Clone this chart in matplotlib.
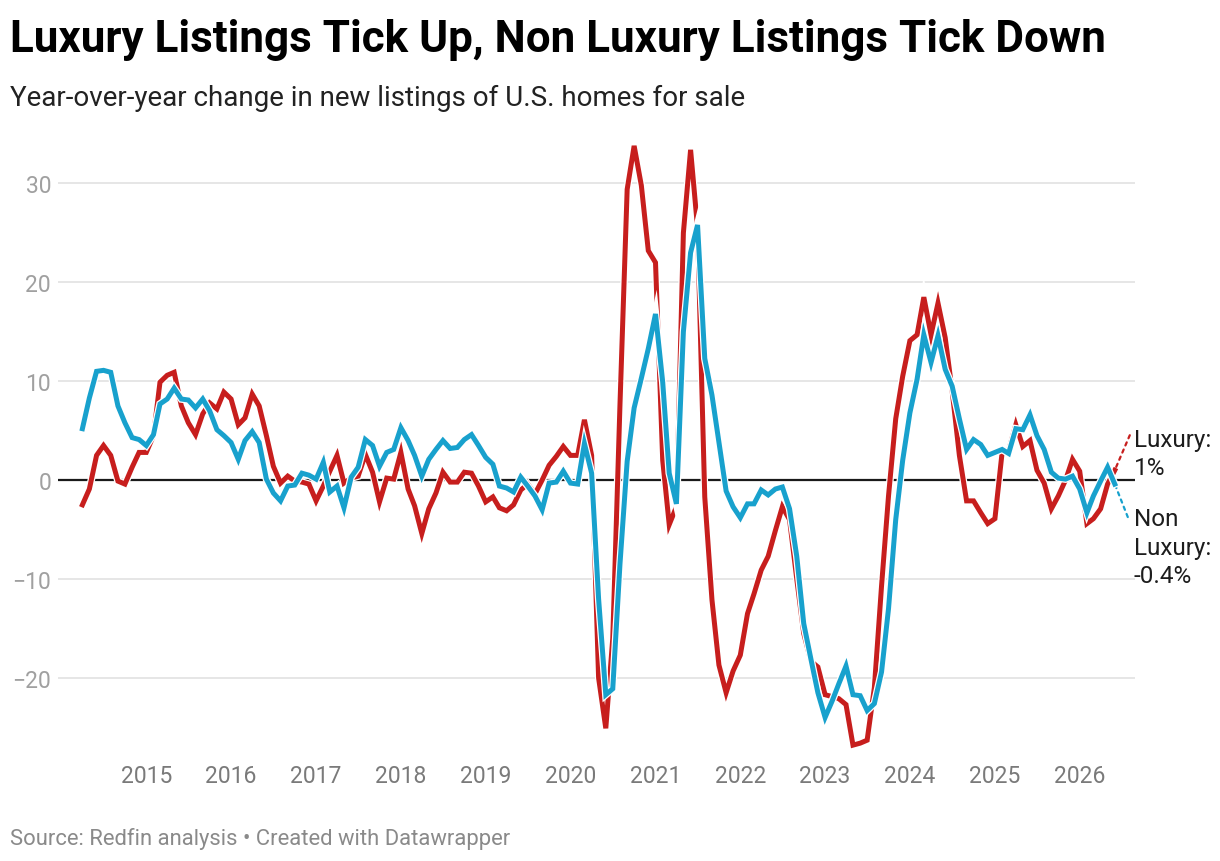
import pandas as pd
import matplotlib
matplotlib.use('Agg')
import matplotlib.pyplot as plt
import matplotlib.patheffects as pe

plt.rcParams['font.family'] = ['Roboto', 'DejaVu Sans']

# monthly points, Apr 2014 .. Jun 2026
months = pd.date_range('2014-04-01', periods=147, freq='MS')

luxury = [
    -2.5, -0.9, 2.5, 3.5, 2.5, -0.1, -0.4, 1.3, 2.8, 2.8,
    4.5, 9.9, 10.6, 10.9, 7.5, 5.8, 4.6, 6.7, 7.8, 7.2,
    8.9, 8.2, 5.6, 6.3, 8.7, 7.5, 4.5, 1.4, -0.3, 0.4,
    -0.1, -0.2, -0.4, -2.1, -0.6, 0.9, 2.5, -0.3, 0.2, 0.4,
    2.6, 0.8, -2.2, 0.2, 0.1, 2.8, -0.9, -2.6, -5.4, -2.9,
    -1.3, 0.8, -0.2, -0.2, 0.8, 0.7, -0.6, -2.2, -1.7, -2.8,
    -3.1, -2.5, -1.0, -0.4, -1.4, 0.0, 1.5, 2.4, 3.4, 2.5,
    2.5, 6.1, 2.5, -20.0, -25.1, -16.0, 7.6, 29.4, 33.8, 29.8,
    23.2, 22.0, 2.0, -4.5, -2.7, 25.0, 33.4, 25.5, -1.7, -12.1,
    -18.7, -21.5, -19.3, -17.7, -13.5, -11.5, -9.1, -7.7, -5.1, -2.7,
    -4.0, -10.0, -15.5, -18.3, -18.9, -21.7, -21.9, -22.1, -22.7, -26.8,
    -26.6, -26.3, -21.0, -10.7, -1.6, 6.2, 10.5, 14.1, 14.7, 18.5,
    14.7, 17.9, 14.4, 9.0, 2.5, -2.1, -2.1, -3.3, -4.4, -3.9,
    2.8, 3.0, 5.6, 3.4, 4.0, 1.0, -0.3, -2.9, -1.6, 0.0,
    2.1, 0.9, -4.4, -3.9, -2.9, -0.4, 1.0,
]

non_luxury = [
    5.2, 8.3, 11.0, 11.1, 10.9, 7.5, 5.8, 4.3, 4.1, 3.5,
    4.6, 7.7, 8.2, 9.3, 8.2, 8.1, 7.3, 8.2, 7.0, 5.1,
    4.5, 3.8, 2.1, 4.0, 4.9, 3.8, 0.1, -1.3, -2.1, -0.6,
    -0.5, 0.7, 0.5, 0.1, 1.8, -1.2, -0.6, -2.8, 0.3, 1.3,
    4.1, 3.5, 1.4, 2.8, 3.1, 5.3, 4.0, 2.5, 0.4, 2.1,
    3.1, 4.0, 3.2, 3.3, 4.1, 4.6, 3.5, 2.3, 1.6, -0.6,
    -0.8, -1.2, 0.3, -0.6, -1.6, -3.0, -0.3, -0.2, 0.9, -0.3,
    -0.4, 3.7, 0.7, -12.0, -21.7, -21.1, -8.5, 1.9, 7.3, 10.3,
    13.3, 16.8, 9.9, 0.7, -2.4, 15.0, 23.0, 25.8, 12.3, 8.6,
    3.8, -1.1, -2.7, -3.8, -2.4, -2.4, -1.0, -1.5, -0.9, -0.7,
    -2.9, -7.7, -14.5, -18.1, -21.5, -24.0, -22.3, -20.6, -18.8, -21.7,
    -21.8, -23.3, -22.6, -19.4, -13.0, -4.0, 2.0, 6.8, 10.2, 14.7,
    11.9, 14.6, 11.2, 9.5, 6.2, 3.1, 4.1, 3.6, 2.5, 2.8,
    3.1, 2.7, 5.2, 5.1, 6.6, 4.5, 3.1, 0.8, 0.2, 0.1,
    0.4, -0.9, -3.3, -1.6, -0.1, 1.3, -0.4,
]

year_ticks = pd.to_datetime([f'{y}-01-01' for y in range(2015, 2027)])
year_labels = [str(y) for y in range(2015, 2027)]
value_ticks = [-20, -10, 0, 10, 20, 30]
value_labels = ['\u221220', '\u221210', '0', '10', '20', '30']

RED = '#c71e1d'
BLUE = '#18a1cd'

W, H = 1220, 862
fig = plt.figure(figsize=(W / 100, H / 100), dpi=100)
ax = fig.add_axes([58 / W, 1 - 758 / H, (1135 - 58) / W, (758 - 135) / H])

halo = [pe.Stroke(linewidth=5.4, foreground='white'), pe.Normal()]
ax.plot(months, luxury, color=RED, lw=3.6, solid_joinstyle='miter',
        path_effects=halo, zorder=3)
ax.plot(months, non_luxury, color=BLUE, lw=3.6, solid_joinstyle='miter',
        path_effects=halo, zorder=4)

ax.axhline(0, color='#1a1a1a', lw=1.6, zorder=2)
ax.set_ylim(-28, 35)
ax.set_xlim(pd.Timestamp('2013-12-17'), pd.Timestamp('2026-08-27'))
ax.set_yticks(value_ticks)
ax.set_yticklabels(value_labels)
ax.set_xticks(year_ticks)
ax.set_xticklabels(year_labels)
ax.grid(axis='y', color='#e2e2e2', lw=1.2, zorder=0)
ax.tick_params(axis='y', length=0, pad=5, labelsize=16.5, labelcolor='#a0a0a0')
ax.tick_params(axis='x', length=0, pad=5, labelsize=16.5, labelcolor='#7a7a7a')
for s in ax.spines.values():
    s.set_visible(False)

# end labels with dotted connectors
ax.annotate('', xy=(months[-1], luxury[-1]), xytext=(15, 35),
            textcoords='offset pixels',
            arrowprops=dict(arrowstyle='-', color=RED, lw=1.6, ls=(0, (1.5, 2)),
                            shrinkA=0, shrinkB=0))
ax.annotate('', xy=(months[-1], non_luxury[-1]), xytext=(13, -33),
            textcoords='offset pixels',
            arrowprops=dict(arrowstyle='-', color=BLUE, lw=1.6, ls=(0, (1.5, 2)),
                            shrinkA=0, shrinkB=0))
# va='baseline' on multi-line text refers to the last line
fig.text(1134 / W, 1 - 475 / H, 'Luxury:\n1%', fontsize=17.5, color='#1d1d1d',
         va='baseline', linespacing=1.3)
fig.text(1134 / W, 1 - 583 / H, 'Non\nLuxury:\n-0.4%', fontsize=17.5, color='#1d1d1d',
         va='baseline', linespacing=1.3)

fig.text(10 / W, 1 - 52 / H, 'Luxury Listings Tick Up, Non Luxury Listings Tick Down',
         fontsize=31.7, fontweight='bold', color='#000000', va='baseline')
fig.text(10 / W, 1 - 106 / H, 'Year-over-year change in new listings of U.S. homes for sale',
         fontsize=20, color='#222222', va='baseline')
fig.text(10 / W, 1 - 845 / H, 'Source: Redfin analysis \u2022 Created with Datawrapper',
         fontsize=15.8, color='#8a8a8a', va='baseline')

fig.savefig('out.png', dpi=100)
